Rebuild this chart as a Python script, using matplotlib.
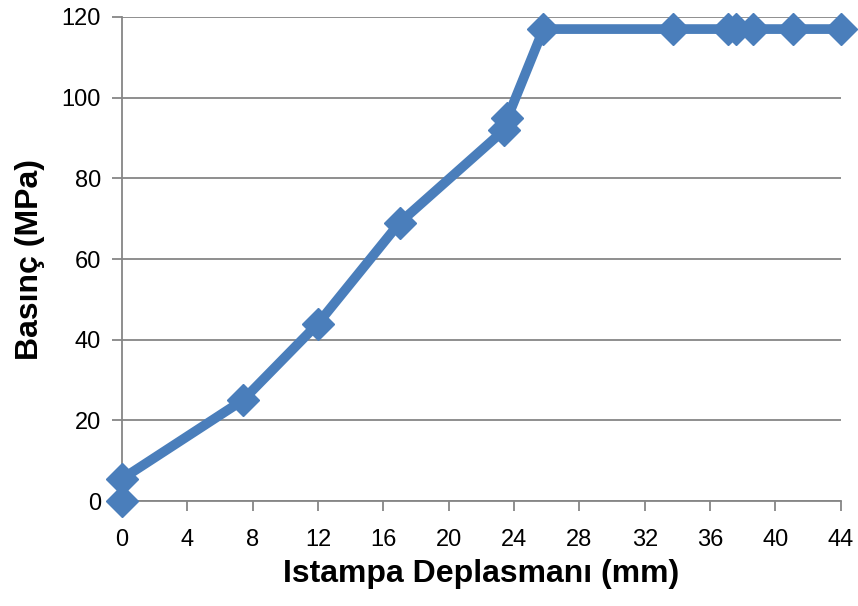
import matplotlib.pyplot as plt
from matplotlib import font_manager

# displacement (mm) vs pressure (MPa)
displacement = [0, 0, 7.4, 12.0, 17.0, 23.4, 23.6, 25.8, 33.7, 37.1, 37.6, 38.6, 41.1, 44.0]
pressure = [0, 5.5, 25, 44, 69, 92, 95, 117, 117, 117, 117, 117, 117, 117]

xticks = list(range(0, 45, 4))
yticks = list(range(0, 121, 20))

names = {f.name for f in font_manager.fontManager.ttflist}
tick_font = 'Liberation Sans Narrow' if 'Liberation Sans Narrow' in names else 'Liberation Sans'

blue = '#4a7ebb'
grid_c = '#868686'

fig = plt.figure(figsize=(8.58, 6.06), dpi=100)
ax = fig.add_axes([0.142, 0.173, 0.838, 0.799])

ax.plot(displacement, pressure, color=blue, lw=7, marker='D', ms=16.5,
        mec=blue, mfc=blue, clip_on=False, zorder=3)

ax.set_xlim(0, 44)
ax.set_ylim(0, 120)
ax.set_xticks(xticks)
ax.set_yticks(yticks)
ax.yaxis.grid(True, color=grid_c, lw=1.3)
ax.set_axisbelow(True)

for s in ['top', 'right']:
    ax.spines[s].set_visible(False)
for s in ['left', 'bottom']:
    ax.spines[s].set_color(grid_c)
    ax.spines[s].set_linewidth(1.3)

ax.tick_params(axis='x', direction='out', length=7, width=1.3, color=grid_c, pad=13)
ax.tick_params(axis='y', direction='out', length=7, width=1.3, color=grid_c, pad=8)
for lbl in ax.get_xticklabels() + ax.get_yticklabels():
    lbl.set_fontfamily(tick_font)
    lbl.set_fontsize(17)

ax.set_xlabel('Istampa Deplasmanı (mm)', fontsize=23, fontweight='bold',
              family='Liberation Sans', labelpad=6)
ax.set_ylabel('Basınç (MPa)', fontsize=23, fontweight='bold',
              family='Liberation Sans', labelpad=12)

fig.savefig('out.png', dpi=100)
